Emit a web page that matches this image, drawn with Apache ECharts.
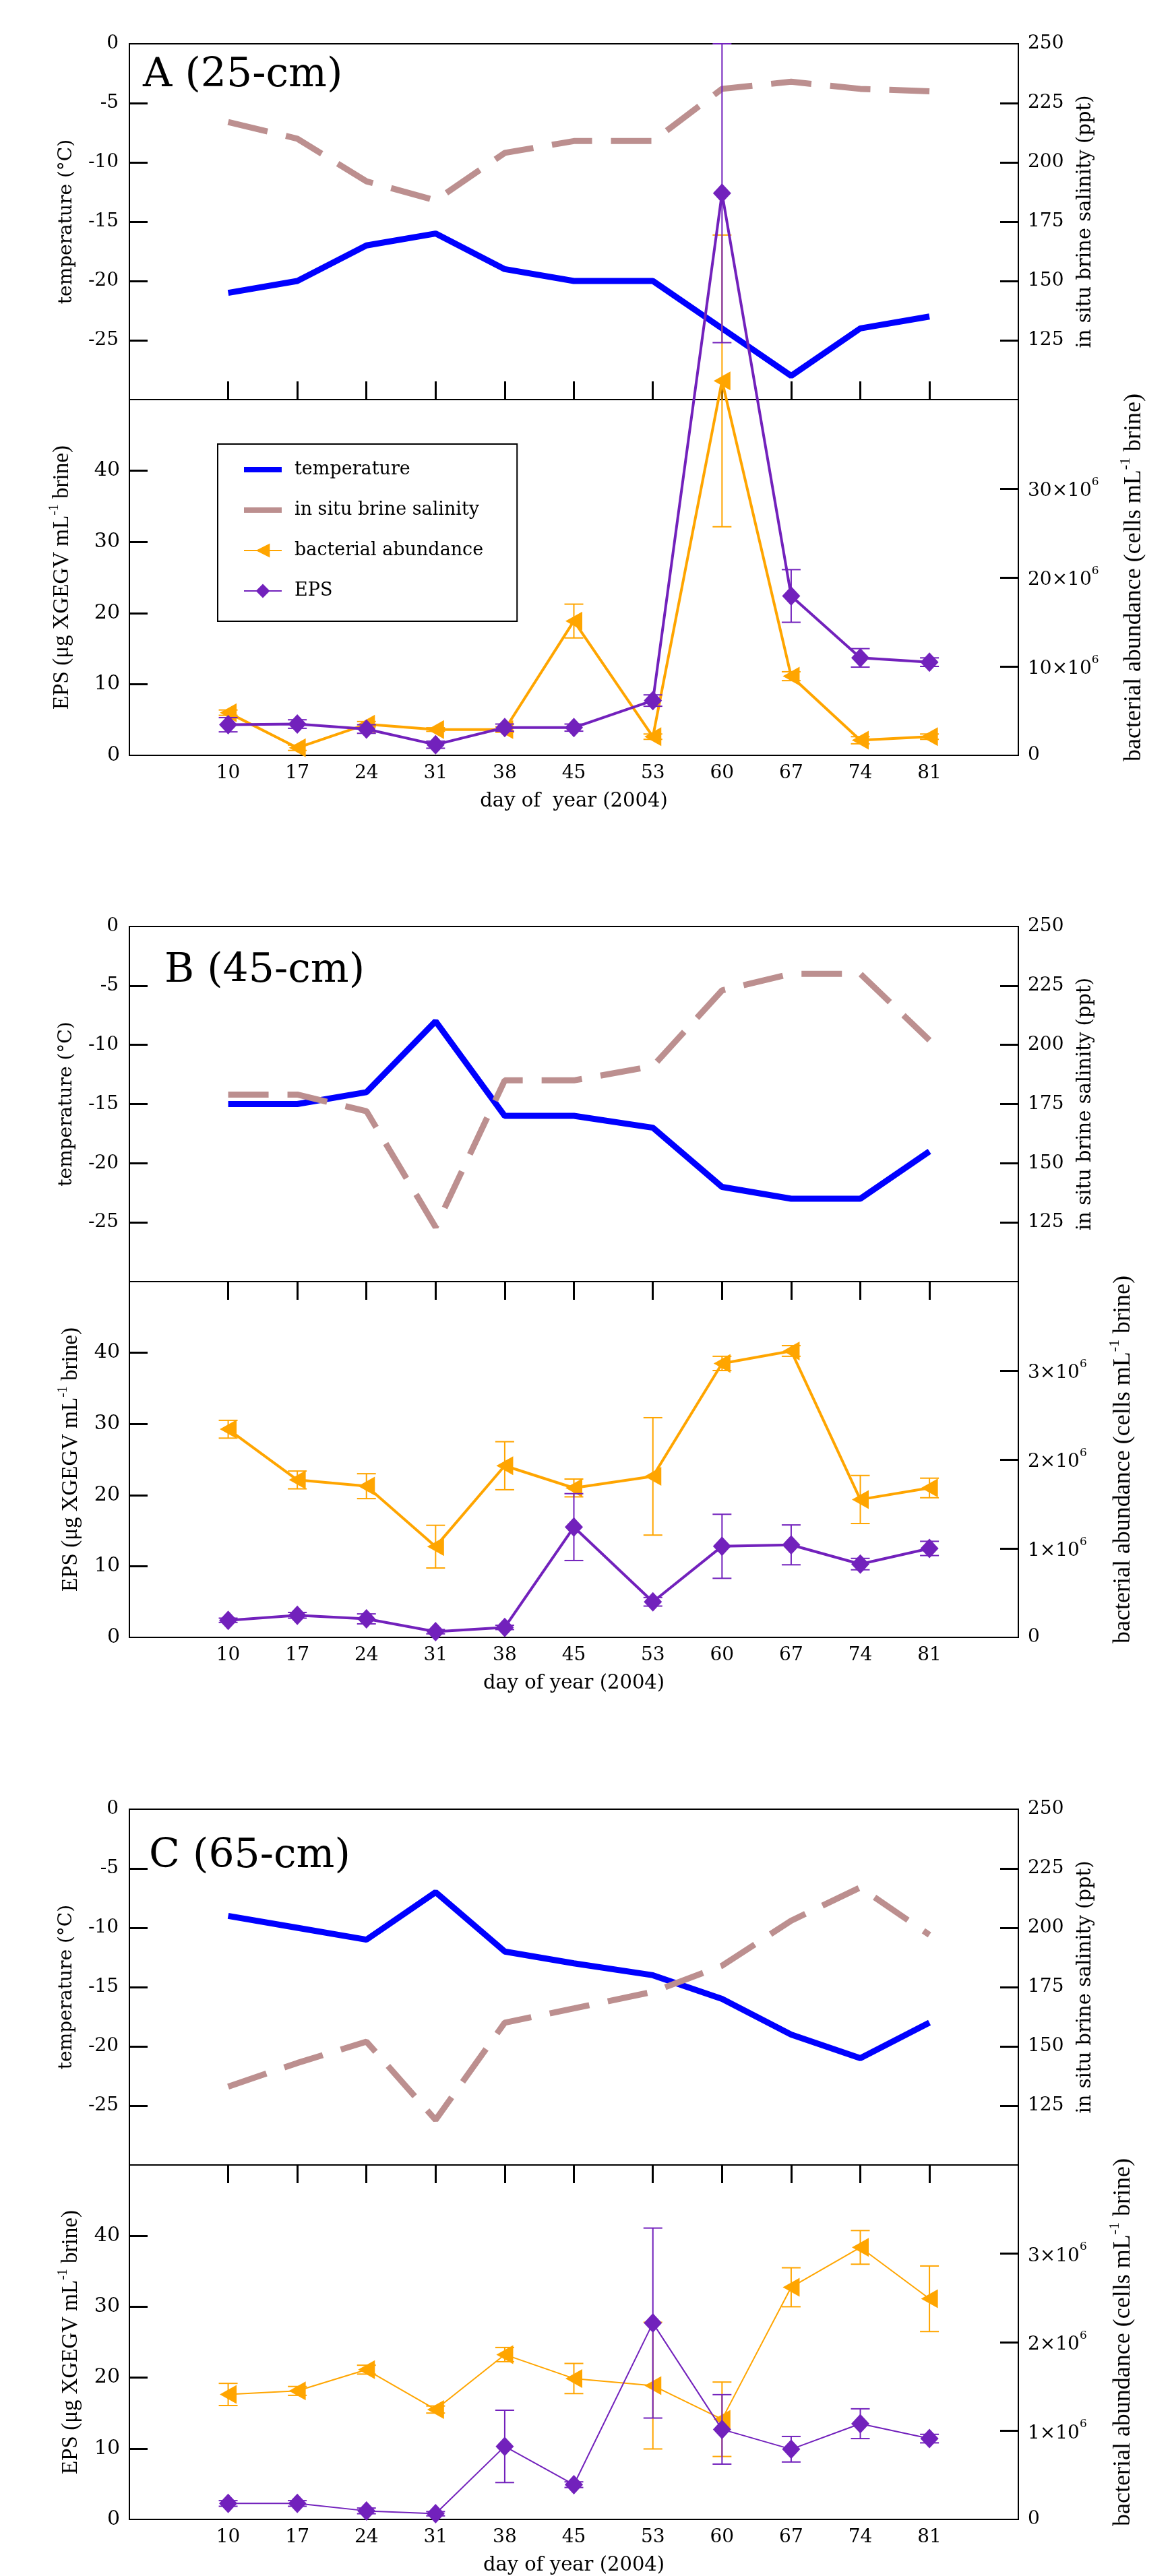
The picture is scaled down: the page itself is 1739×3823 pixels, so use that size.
<!DOCTYPE html>
<html><head><meta charset="utf-8">
<script src="https://cdn.jsdelivr.net/npm/echarts@6/dist/echarts.min.js"></script>
<style>html,body{margin:0;padding:0;background:#fff}#c{width:1739px;height:3823px}</style>
</head><body><div id="c"></div>
<script>
// ---------- data ----------
const days = [10,17,24,31,38,45,53,60,67,74,81];
const tempTicks = [0,-5,-10,-15,-20,-25];
const salTicks = [250,225,200,175,150,125];
const epsTicks = [0,10,20,30,40];
const bactTicksA = [0,10e6,20e6,30e6];
const bactTicksBC = [0,1e6,2e6,3e6];

// Panel A (25-cm)
const tempA = [-21,-20,-17,-16,-19,-20,-20,-24,-28,-24,-23];
const salA = [217,210,192,184,204,209,209,231,234,231,230];
const epsA = [4.3,4.4,3.7,1.5,3.9,3.9,7.7,79,22.4,13.7,13.1];
const epsErrA = [1.0,0.6,0.6,0.5,0.5,0.5,0.8,21,3.7,1.3,0.6];
const bactA = [4.8e6,0.85e6,3.5e6,2.9e6,2.9e6,15.1e6,2.1e6,42.1e6,8.9e6,1.7e6,2.1e6];
const bactErrA = [0.3e6,0.3e6,0.3e6,0.2e6,0.3e6,1.9e6,0.3e6,16.4e6,0.5e6,0.4e6,0.3e6];

// Panel B (45-cm)
const tempB = [-15,-15,-14,-8,-16,-16,-17,-22,-23,-23,-19];
const salB = [179,179,172,123,185,185,191,223,230,230,202];
const epsB = [2.4,3.1,2.6,0.8,1.4,15.5,5.0,12.8,13.0,10.3,12.5];
const epsErrB = [0.3,0.4,0.7,0.3,0.3,4.7,0.6,4.5,2.8,0.8,1.0];
const bactB = [2.34e6,1.77e6,1.70e6,1.02e6,1.93e6,1.68e6,1.81e6,3.08e6,3.22e6,1.55e6,1.68e6];
const bactErrB = [0.1e6,0.1e6,0.14e6,0.24e6,0.27e6,0.1e6,0.66e6,0.08e6,0.06e6,0.27e6,0.11e6];

// Panel C (65-cm)
const tempC = [-9,-10,-11,-7,-12,-13,-14,-16,-19,-21,-18];
const salC = [133,143,152,119,160,166,173,184,203,217,197];
const epsC = [2.25,2.25,1.2,0.8,10.3,4.9,27.7,12.7,9.9,13.5,11.4];
const epsErrC = [0.4,0.4,0.4,0.3,5.1,0.4,13.4,4.9,1.8,2.1,0.6];
const bactC = [1.41e6,1.45e6,1.69e6,1.24e6,1.86e6,1.59e6,1.51e6,1.13e6,2.62e6,3.07e6,2.49e6];
const bactErrC = [0.125e6,0.05e6,0.05e6,0.04e6,0.08e6,0.17e6,0.715e6,0.42e6,0.22e6,0.19e6,0.37e6];

// ---------- styling / layout ----------
const SERIF = 'DejaVu Serif';
const TIMES = 'Liberation Serif';
const C_TEMP = '#0000ff', C_SAL = '#bc8f8f', C_BACT = '#ffa500', C_EPS = '#7221bc';

const panels = [
  {label:'A (25-cm)', lx:212, ly:82, top:65, mid:593, bot:1121, temp:tempA, sal:salA, eps:epsA, epsErr:epsErrA,
   bact:bactA, bactErr:bactErrA, bactMax:40e6, bactTicks:bactTicksA, ticksInTop:true, xName:'day of  year (2004)',
   epsGap:83, bactGap:148, lw:4, clip:false},
  {label:'B (45-cm)', lx:244, ly:1411, top:1375, mid:1902, bot:2430, temp:tempB, sal:salB, eps:epsB, epsErr:epsErrB,
   bact:bactB, bactErr:bactErrB, bactMax:4e6, bactTicks:bactTicksBC, ticksInTop:false, xName:'day of year (2004)',
   epsGap:70, bactGap:132, lw:4, clip:true},
  {label:'C (65-cm)', lx:221, ly:2725, top:2685, mid:3213, bot:3741, temp:tempC, sal:salC, eps:epsC, epsErr:epsErrC,
   bact:bactC, bactErr:bactErrC, bactMax:4e6, bactTicks:bactTicksBC, ticksInTop:false, xName:'day of year (2004)',
   epsGap:70, bactGap:132, lw:2, clip:true}
];

function errBar(color){
  return function(params, api){
    const x = api.value(0), v = api.value(1), e = api.value(2);
    const a = api.coord([x, v + e]), b = api.coord([x, v - e]);
    const hw = 14, st = {stroke: color, lineWidth: 2};
    return {type:'group', children:[
      {type:'line', shape:{x1:a[0], y1:a[1], x2:b[0], y2:b[1]}, style:st},
      {type:'line', shape:{x1:a[0]-hw, y1:a[1], x2:a[0]+hw, y2:a[1]}, style:st},
      {type:'line', shape:{x1:b[0]-hw, y1:b[1], x2:b[0]+hw, y2:b[1]}, style:st}
    ]};
  };
}

const tick = (vals) => ({show:true, inside:true, length:27, customValues:vals, lineStyle:{color:'#000', width:3}});
const axLine = () => ({show:true, onZero:false, lineStyle:{color:'#000', width:2}});
const grids = [], xAxes = [], yAxes = [], series = [], titles = [];

panels.forEach((p) => {
  const gT = grids.length;
  const border = {show:true, borderColor:'#000', borderWidth:2};
  grids.push(Object.assign({left:192, right:228, top:p.top, height:p.mid - p.top}, border));
  grids.push(Object.assign({left:192, right:228, top:p.mid, height:p.bot - p.mid}, border));

  const xT = xAxes.length;
  xAxes.push({type:'value', gridIndex:gT, min:0, max:90, position:'bottom',
    axisLine:axLine(), splitLine:{show:false},
    axisTick: p.ticksInTop ? tick(days) : {show:false}, axisLabel:{show:false}});
  xAxes.push({type:'value', gridIndex:gT+1, min:0, max:90, position:'bottom',
    axisLine:axLine(), splitLine:{show:false}, axisTick:{show:false},
    axisLabel:{customValues:days, fontFamily:SERIF, fontSize:28, color:'#000', margin:13},
    name:p.xName, nameLocation:'middle', nameGap:54,
    nameTextStyle:{fontFamily:SERIF, fontSize:29, color:'#000'}});
  if (!p.ticksInTop) {
    xAxes.push({type:'value', gridIndex:gT+1, min:0, max:90, position:'top',
      axisLine:axLine(), splitLine:{show:false}, axisTick:tick(days), axisLabel:{show:false}});
  }

  const yT = yAxes.length;
  const yb = () => ({type:'value', axisLine:axLine(), splitLine:{show:false}, nameLocation:'middle', nameRotate:90});
  yAxes.push(Object.assign(yb(), {gridIndex:gT, position:'left', min:-30, max:0,
    axisTick:tick(tempTicks.slice(1)),
    axisLabel:{customValues:tempTicks, fontFamily:SERIF, fontSize:28, color:'#000', margin:16},
    name:'temperature (°C)', nameGap:79, nameTextStyle:{fontFamily:SERIF, fontSize:28, color:'#000'}}));
  yAxes.push(Object.assign(yb(), {gridIndex:gT, position:'right', min:100, max:250,
    axisTick:tick(salTicks.slice(1)),
    axisLabel:{customValues:salTicks, fontFamily:SERIF, fontSize:28, color:'#000', margin:14},
    name:'in situ brine salinity (ppt)', nameGap:85, nameTextStyle:{fontFamily:SERIF, fontSize:29, color:'#000'}}));
  yAxes.push(Object.assign(yb(), {gridIndex:gT+1, position:'left', min:0, max:50,
    axisTick:tick(epsTicks.slice(1)),
    axisLabel:{customValues:epsTicks, fontFamily:SERIF, fontSize:30, color:'#000', margin:14},
    name:'{a|EPS (μg XGEGV mL}{s|-1}{a| brine)}', nameGap:p.epsGap,
    nameTextStyle:{color:'#000', rich:{
      a:{fontFamily:TIMES, fontSize:33, color:'#000', lineHeight:38, verticalAlign:'bottom'},
      s:{fontFamily:TIMES, fontSize:20, color:'#000', lineHeight:20, verticalAlign:'top'}}}}));
  yAxes.push(Object.assign(yb(), {gridIndex:gT+1, position:'right', min:0, max:p.bactMax,
    axisTick:tick(p.bactTicks.slice(1)),
    axisLabel:{customValues:p.bactTicks, fontFamily:SERIF, fontSize:28, color:'#000', margin:14,
      formatter: v => v === 0 ? '0' : '{n|' + Math.round(v/1e6) + '×10}{s|6}',
      rich:{n:{fontFamily:SERIF, fontSize:28, color:'#000', lineHeight:36, verticalAlign:'bottom'},
            s:{fontFamily:SERIF, fontSize:17, color:'#000', lineHeight:17, verticalAlign:'top'}}},
    name:'{a|bacterial abundance (cells mL}{s|-1}{a| brine)}', nameGap:p.bactGap,
    nameTextStyle:{color:'#000', rich:{
      a:{fontFamily:TIMES, fontSize:36, color:'#000', lineHeight:42, verticalAlign:'bottom'},
      s:{fontFamily:TIMES, fontSize:22, color:'#000', lineHeight:22, verticalAlign:'top'}}}}));
  // tick-only companions for the left axes (inward ticks on the left frame)
  yAxes.push({type:'value', gridIndex:gT, position:'left', min:-30, max:0, axisLine:axLine(),
    splitLine:{show:false}, axisTick:tick(tempTicks.slice(1)), axisLabel:{show:false}});
  yAxes.push({type:'value', gridIndex:gT+1, position:'left', min:0, max:50, axisLine:axLine(),
    splitLine:{show:false}, axisTick:tick(epsTicks.slice(1)), axisLabel:{show:false}});

  const pts = (arr) => days.map((d,k) => [d, arr[k]]);
  const errPts = (arr, err) => days.map((d,k) => [d, arr[k], err[k]]);

  series.push({name:'temperature', type:'line', xAxisIndex:xT, yAxisIndex:yT, data:pts(p.temp),
    symbol:'none', lineStyle:{color:C_TEMP, width:9}, itemStyle:{color:C_TEMP}, z:2});
  series.push({name:'in situ brine salinity', type:'line', xAxisIndex:xT, yAxisIndex:yT+1, data:pts(p.sal),
    symbol:'none', lineStyle:{color:C_SAL, width:9, type:[60,28]}, itemStyle:{color:C_SAL}, z:2});

  series.push({type:'custom', xAxisIndex:xT+1, yAxisIndex:yT+3, data:errPts(p.bact, p.bactErr),
    renderItem:errBar(C_BACT), clip:false, silent:true, z:3});
  series.push({name:'bacterial abundance', type:'line', xAxisIndex:xT+1, yAxisIndex:yT+3, data:pts(p.bact),
    symbol:'triangle', symbolRotate:90, symbolSize:[28,25], lineStyle:{color:C_BACT, width:p.lw},
    itemStyle:{color:C_BACT}, clip:p.clip, z:4});
  series.push({type:'custom', xAxisIndex:xT+1, yAxisIndex:yT+2, data:errPts(p.eps, p.epsErr),
    renderItem:errBar(C_EPS), clip:false, silent:true, z:5});
  series.push({name:'EPS', type:'line', xAxisIndex:xT+1, yAxisIndex:yT+2, data:pts(p.eps),
    symbol:'diamond', symbolSize:[27,29], lineStyle:{color:C_EPS, width:p.lw},
    itemStyle:{color:C_EPS}, clip:p.clip, z:6});

  titles.push({text:p.label, left:p.lx, top:p.ly, padding:0,
    textStyle:{fontFamily:SERIF, fontSize:60, fontWeight:'normal', color:'#000'}});
});

const chart = echarts.init(document.getElementById('c'), null, {renderer:'canvas'});
chart.setOption({
  animation:false,
  backgroundColor:'#fff',
  title:titles,
  grid:grids, xAxis:xAxes, yAxis:yAxes, series:series,
  legend:{left:323, top:659, orient:'vertical', padding:[20,50,27,38], itemGap:24,
    itemWidth:56, itemHeight:26, borderColor:'#000', borderWidth:2, backgroundColor:'#fff',
    selectedMode:false, z:10,
    textStyle:{fontFamily:SERIF, fontSize:27, color:'#000', lineHeight:36, padding:[0,0,0,14]},
    data:[
      {name:'temperature', icon:'path://M0 0H56V8H0Z'},
      {name:'in situ brine salinity', icon:'path://M0 0H56V8H0Z'},
      {name:'bacterial abundance'},
      {name:'EPS'}
    ]}
});
</script>
</body></html>
